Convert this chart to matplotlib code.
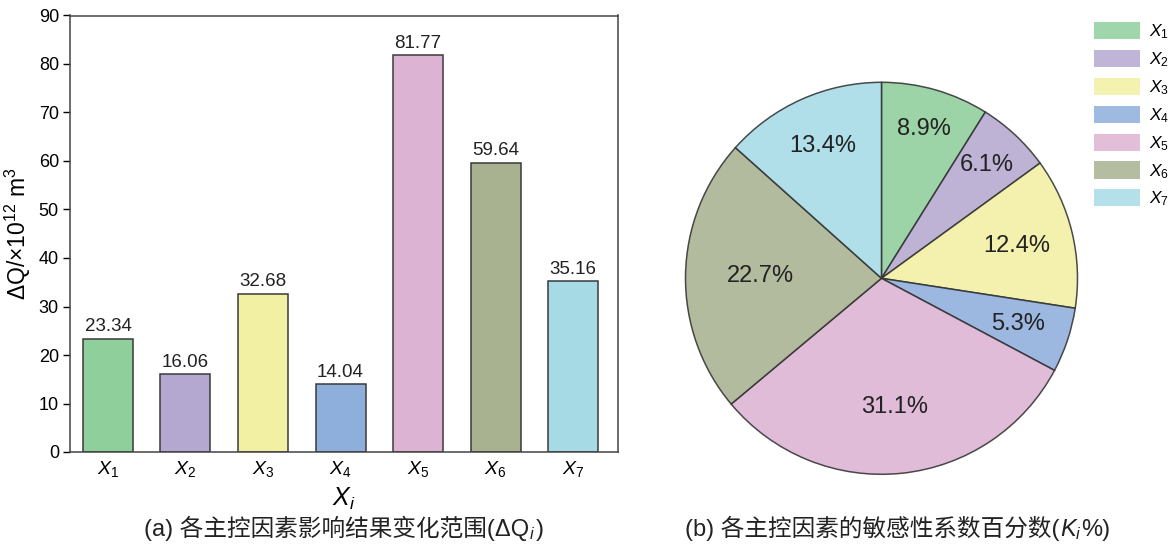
import matplotlib
matplotlib.use("Agg")
import numpy as np
import matplotlib.pyplot as plt
from matplotlib.patches import Patch
from matplotlib.offsetbox import TextArea, HPacker, AnchoredOffsetbox

plt.rcParams['font.family'] = ['Liberation Sans', 'Noto Sans CJK SC', 'DejaVu Sans']
plt.rcParams['mathtext.fontset'] = 'custom'
plt.rcParams['mathtext.rm'] = 'Liberation Sans'
plt.rcParams['mathtext.it'] = 'Liberation Sans:italic'
plt.rcParams['mathtext.bf'] = 'Liberation Sans:bold'

categories = ['$\\mathit{X}_1$', '$\\mathit{X}_2$', '$\\mathit{X}_3$', '$\\mathit{X}_4$',
              '$\\mathit{X}_5$', '$\\mathit{X}_6$', '$\\mathit{X}_7$']
delta_q = [23.34, 16.06, 32.68, 14.04, 81.77, 59.64, 35.16]
colors = ['#8fcf9c', '#b5a8d0', '#f2f0a2', '#8eaedc', '#ddb3d3', '#a8b291', '#a6dbe6']
y_ticks = [0, 10, 20, 30, 40, 50, 60, 70, 80, 90]
# radial placement of the percentage labels (fraction of radius)
label_radius = [0.79, 0.79, 0.71, 0.735, 0.66, 0.62, 0.74]

W, H = 1171, 547
fig = plt.figure(figsize=(W/100, H/100), dpi=100)

# Bar chart
ax = fig.add_axes([70/W, 95/H, 548/W, 436.5/H])
x = list(range(len(categories)))
ax.bar(x, delta_q, width=0.645, color=colors, edgecolor='#3a3a3a', linewidth=1.1)
for xi, v in zip(x, delta_q):
    ax.text(xi, v + 0.7, f'{v:.2f}', ha='center', va='bottom', fontsize=13.5, color='#222222')
ax.set_xlim(-0.49, 6.58)
ax.set_ylim(0, 90)
ax.set_yticks(y_ticks)
ax.set_xticks(x)
ax.set_xticklabels(categories, fontsize=14)
ax.tick_params(axis='x', length=0, pad=5)
ax.tick_params(axis='y', labelsize=13, length=5, width=1, direction='out', pad=3)
for s in ax.spines.values():
    s.set_linewidth(1.1)
    s.set_color('#444444')
ax.set_ylabel('ΔQ/×10$^{12}$ m$^3$', fontsize=16.5, labelpad=4)
ax.set_xlabel('$\\mathit{X}_{\\mathit{i}}$', fontsize=18, labelpad=5)


def caption(parts, cx_px, cy_px, size):
    areas = [TextArea(t, textprops=dict(fontsize=size, color='#222222')) for t in parts]
    box = HPacker(children=areas, align='baseline', pad=0, sep=0)
    ab = AnchoredOffsetbox(loc='center', child=box, pad=0, borderpad=0, frameon=False,
                           bbox_to_anchor=(cx_px/W, 1 - cy_px/H),
                           bbox_transform=fig.transFigure)
    fig.add_artist(ab)


caption(['(a) 各主控因素影响结果变化范围(ΔQ', '$_{\\mathit{i}}$', ')'], 344, 529, 17)

# Pie chart
cx, cy, r = 881.5, 278.3, 196
R = r * 1.25
pax = fig.add_axes([(cx - R)/W, (H - cy - R)/H, 2*R/W, 2*R/H])
wedges, texts, autotexts = pax.pie(delta_q, colors=colors, startangle=90, counterclock=False,
                                   autopct='%.1f%%', pctdistance=0.63,
                                   wedgeprops=dict(edgecolor='#333333', linewidth=1.1),
                                   textprops=dict(fontsize=17, color='#222222'))
for w, t, d in zip(wedges, autotexts, label_radius):
    w.set_alpha(0.88)
    w.set_edgecolor('#333333')
    ang = np.deg2rad((w.theta1 + w.theta2) / 2)
    t.set_position((d * np.cos(ang), d * np.sin(ang)))
pax.set_xlim(-1.25, 1.25)
pax.set_ylim(-1.25, 1.25)
pax.set_aspect('equal')

handles = [Patch(facecolor=c, edgecolor='none', alpha=0.85) for c in colors]
fig.legend(handles, categories, loc='upper left', bbox_to_anchor=(1094/W, 1 - 22/H),
           frameon=False, fontsize=12.5, handlelength=2.65, handleheight=1.15,
           labelspacing=0.5, handletextpad=0.5, borderpad=0, borderaxespad=0)

caption(['(b) 各主控因素的敏感性系数百分数(', '$\\mathit{K_i}$', '%)'], 898, 529, 17)

fig.savefig('out.png', dpi=100)
